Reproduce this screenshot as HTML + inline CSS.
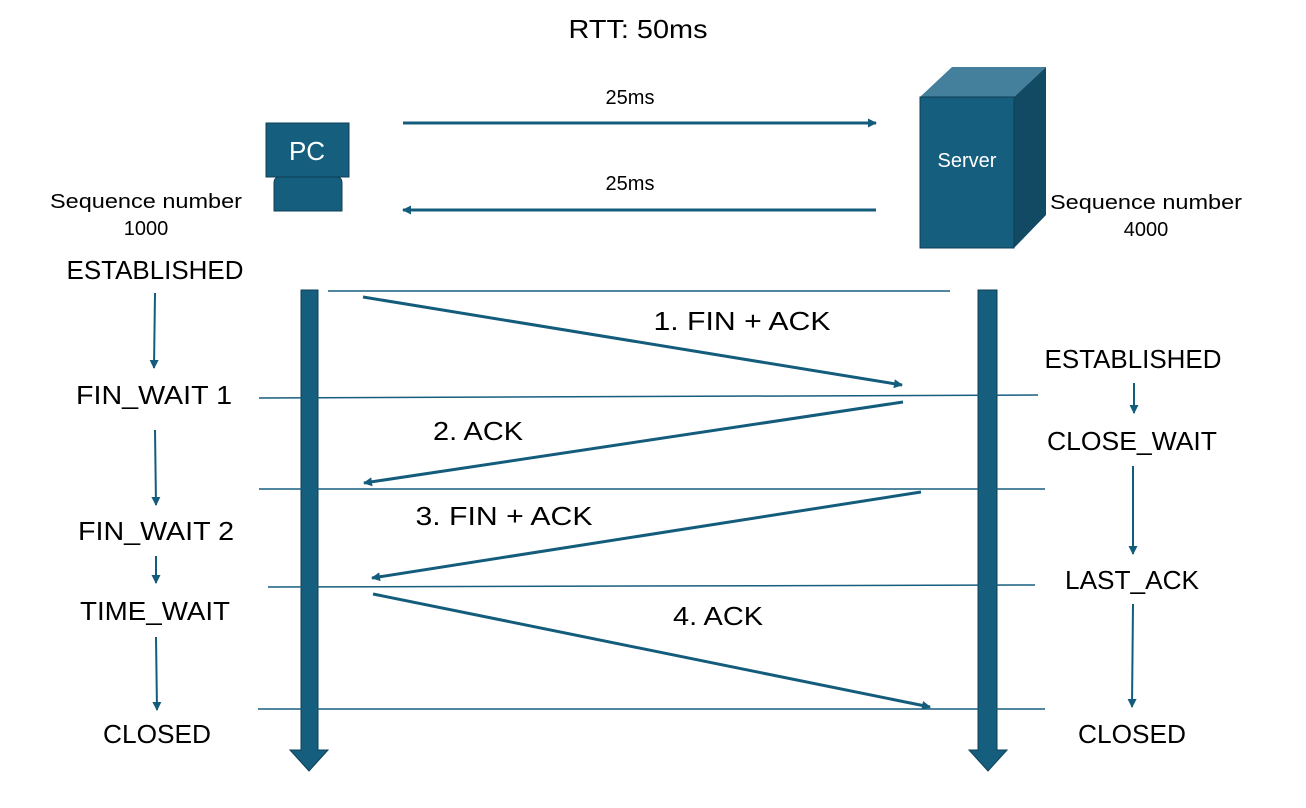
<!DOCTYPE html>
<html><head><style>body{margin:0;background:#fff}svg{display:block}text{font-family:"Liberation Sans","Noto Sans CJK KR",sans-serif;fill:#000}</style></head>
<body>
<svg width="1306" height="808" viewBox="0 0 1306 808">
<defs><marker id="a" markerWidth="9" markerHeight="9" refX="8" refY="4.5" orient="auto" markerUnits="userSpaceOnUse"><path d="M0,0 L9,4.5 L0,9 Z" fill="#145c7c"/></marker></defs>
<text x="638" y="38" font-size="26" text-anchor="middle" textLength="139" lengthAdjust="spacingAndGlyphs">RTT: 50ms</text>
<text x="630" y="104" font-size="20" text-anchor="middle">25ms</text>
<text x="630" y="190" font-size="20" text-anchor="middle">25ms</text>
<line x1="403" y1="123" x2="876" y2="123" stroke="#145c7c" stroke-width="3" marker-end="url(#a)"/>
<line x1="876" y1="210" x2="403" y2="210" stroke="#145c7c" stroke-width="3" marker-end="url(#a)"/>
<!-- PC -->
<rect x="266" y="123" width="83" height="54" fill="#165e7e" stroke="#0d3f55"/>
<text x="307" y="160" font-size="26" text-anchor="middle" style="fill:#fff">PC</text>
<path d="M274,211 L274,183 Q274,177 280,177 L336,177 Q342,177 342,183 L342,211 Z" fill="#165e7e" stroke="#0d3f55"/>
<!-- Server -->
<polygon points="920,97 952,67 1046,67 1014,97" fill="#447f9c"/>
<polygon points="1014,97 1046,67 1046,215 1014,248" fill="#124a64"/>
<rect x="920" y="97" width="94" height="151" fill="#165e7e" stroke="#0d3f55"/>
<text x="967" y="167" font-size="20" text-anchor="middle" style="fill:#fff">Server</text>
<text x="146" y="208" font-size="20" text-anchor="middle" textLength="192" lengthAdjust="spacingAndGlyphs">Sequence number</text>
<text x="146" y="235" font-size="20" text-anchor="middle">1000</text>
<text x="1146" y="209" font-size="20" text-anchor="middle" textLength="192" lengthAdjust="spacingAndGlyphs">Sequence number</text>
<text x="1146" y="236" font-size="20" text-anchor="middle">4000</text>
<!-- timelines -->
<polygon points="301,290 318,290 318,750 328,750 309,771 290,750 301,750" fill="#165e7e" stroke="#0d3f55"/>
<polygon points="978,290 997,290 997,750 1007,750 988,771 969,750 978,750" fill="#165e7e" stroke="#0d3f55"/>
<g stroke="#165e7e" stroke-width="1.5">
<line x1="328" y1="291" x2="950" y2="291"/>
<line x1="259" y1="398" x2="1038" y2="395"/>
<line x1="259" y1="489" x2="1045" y2="489"/>
<line x1="268" y1="587" x2="1035" y2="585"/>
<line x1="258" y1="709" x2="1045" y2="709"/>
</g>
<g stroke="#145c7c" stroke-width="3" marker-end="url(#a)">
<line x1="363" y1="297" x2="902" y2="385"/>
<line x1="903" y1="402" x2="364" y2="483"/>
<line x1="921" y1="492" x2="372" y2="578"/>
<line x1="373" y1="594" x2="930" y2="707"/>
</g>
<text x="742" y="330" font-size="26" text-anchor="middle" textLength="177" lengthAdjust="spacingAndGlyphs">1. FIN + ACK</text>
<text x="478" y="440" font-size="26" text-anchor="middle" textLength="90" lengthAdjust="spacingAndGlyphs">2. ACK</text>
<text x="504" y="525" font-size="26" text-anchor="middle" textLength="177" lengthAdjust="spacingAndGlyphs">3. FIN + ACK</text>
<text x="718" y="625" font-size="26" text-anchor="middle" textLength="90" lengthAdjust="spacingAndGlyphs">4. ACK</text>
<g font-size="26" text-anchor="middle">
<text x="155" y="279" textLength="177" lengthAdjust="spacingAndGlyphs">ESTABLISHED</text>
<text x="154" y="404" textLength="156" lengthAdjust="spacingAndGlyphs">FIN_WAIT 1</text>
<text x="156" y="540" textLength="156" lengthAdjust="spacingAndGlyphs">FIN_WAIT 2</text>
<text x="155" y="620" textLength="150" lengthAdjust="spacingAndGlyphs">TIME_WAIT</text>
<text x="157" y="743" textLength="108" lengthAdjust="spacingAndGlyphs">CLOSED</text>
<text x="1133" y="368" textLength="177" lengthAdjust="spacingAndGlyphs">ESTABLISHED</text>
<text x="1132" y="450" textLength="170" lengthAdjust="spacingAndGlyphs">CLOSE_WAIT</text>
<text x="1132" y="589" textLength="134" lengthAdjust="spacingAndGlyphs">LAST_ACK</text>
<text x="1132" y="743" textLength="108" lengthAdjust="spacingAndGlyphs">CLOSED</text>
</g>
<g stroke="#145c7c" stroke-width="2" marker-end="url(#a)">
<line x1="155" y1="293" x2="154" y2="368"/>
<line x1="155" y1="430" x2="156" y2="505"/>
<line x1="156" y1="556" x2="156" y2="583"/>
<line x1="156" y1="637" x2="157" y2="710"/>
<line x1="1134" y1="383" x2="1134" y2="413"/>
<line x1="1133" y1="466" x2="1133" y2="554"/>
<line x1="1133" y1="604" x2="1132" y2="707"/>
</g>
</svg>
</body></html>
